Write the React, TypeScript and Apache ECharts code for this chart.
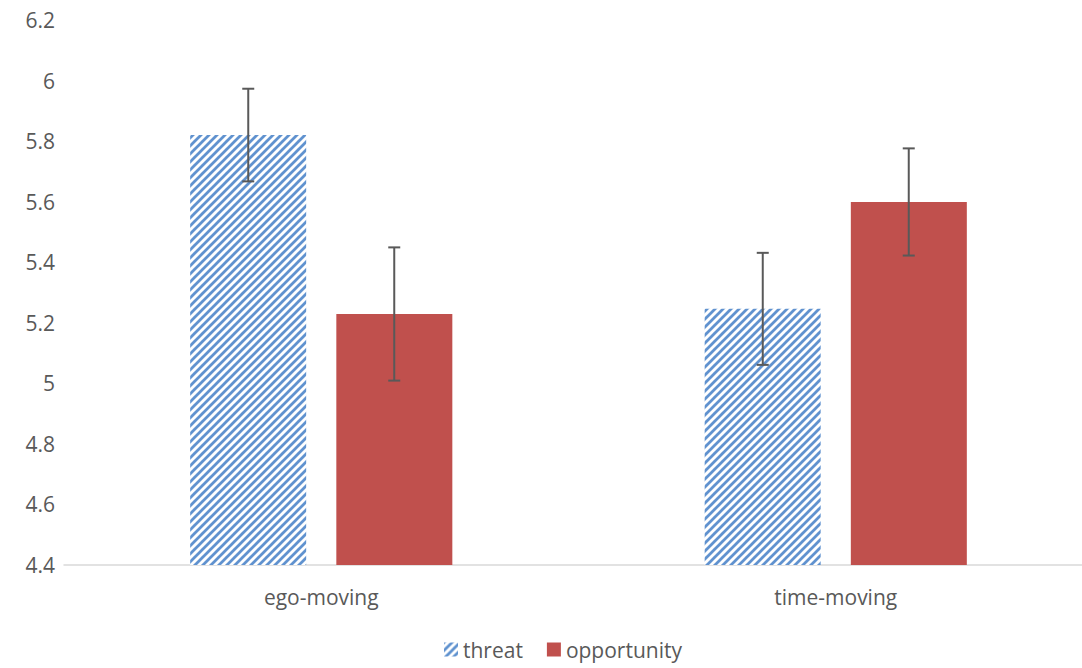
import React, { useEffect, useRef } from "react";
import * as echarts from "echarts";

const categories = ["ego-moving", "time-moving"];
const threatValues = [5.82, 5.246];
const opportunityValues = [5.229, 5.599];
const threatErrors = [0.153, 0.185];
const opportunityErrors = [0.22, 0.177];
const yTicks = { min: 4.4, max: 6.2, interval: 0.2 };

const BLUE = "#6092cf";
const RED = "#c0504d";
const TEXT = "#595959";
const FONT = "'Open Sans', 'Noto Sans', sans-serif";

function makeHatch(): HTMLCanvasElement {
  const c = document.createElement("canvas");
  c.width = 8;
  c.height = 8;
  const ctx = c.getContext("2d")!;
  ctx.fillStyle = "#ffffff";
  ctx.fillRect(0, 0, 8, 8);
  ctx.strokeStyle = BLUE;
  ctx.lineWidth = 2.8;
  ctx.beginPath();
  ctx.moveTo(-2, 10);
  ctx.lineTo(10, -2);
  ctx.moveTo(-6, 6);
  ctx.lineTo(6, -6);
  ctx.moveTo(2, 14);
  ctx.lineTo(14, 2);
  ctx.stroke();
  return c;
}

export default function App() {
  const ref = useRef<HTMLDivElement>(null);
  useEffect(() => {
    if (!ref.current) return;
    const chart = echarts.init(ref.current, undefined, { renderer: "svg" });
    const hatch = makeHatch();
    const hatchFill: any = { image: hatch, repeat: "repeat" };
    const BAR_W = 116;
    const OFFSET = 73;

    const errData = (vals: number[], errs: number[]) =>
      vals.map((v, i) => [i, v, errs[i]]);

    const errRender = (dir: number) => (params: any, api: any) => {
      const idx = api.value(0);
      const v = api.value(1);
      const e = api.value(2);
      const top = api.coord([idx, v + e]);
      const bot = api.coord([idx, v - e]);
      const x = top[0] + dir * OFFSET;
      const cap = 6;
      const style = { stroke: TEXT, lineWidth: 2 };
      return {
        type: "group",
        children: [
          { type: "line", shape: { x1: x, y1: top[1], x2: x, y2: bot[1] }, style },
          { type: "line", shape: { x1: x - cap, y1: top[1], x2: x + cap, y2: top[1] }, style },
          { type: "line", shape: { x1: x - cap, y1: bot[1], x2: x + cap, y2: bot[1] }, style },
        ],
      };
    };

    chart.setOption({
      animation: false,
      textStyle: { fontFamily: FONT },
      grid: {
        left: 64,
        width: 1029,
        top: 20,
        bottom: 103,
        containLabel: false,
        outerBoundsMode: "none",
      },
      legend: {
        data: ["threat", "opportunity"],
        top: 634,
        left: 439,
        icon: "rect",
        itemWidth: 14,
        itemHeight: 14,
        itemGap: 24,
        textStyle: { color: TEXT, fontSize: 21, fontFamily: FONT },
      },
      xAxis: {
        type: "category",
        data: categories,
        axisLine: { lineStyle: { color: "#d9d9d9", width: 1.5 } },
        axisTick: { show: false },
        axisLabel: { color: TEXT, fontSize: 21, margin: 21, fontFamily: FONT },
      },
      yAxis: {
        type: "value",
        min: yTicks.min,
        max: yTicks.max,
        interval: yTicks.interval,
        axisLine: { show: false },
        axisTick: { show: false },
        splitLine: { show: false },
        axisLabel: { color: TEXT, fontSize: 21, margin: 9, fontFamily: FONT },
      },
      series: [
        {
          name: "threat",
          type: "bar",
          data: threatValues,
          barWidth: BAR_W,
          barGap: "26%",
          itemStyle: { color: hatchFill },
        },
        {
          name: "opportunity",
          type: "bar",
          data: opportunityValues,
          barWidth: BAR_W,
          barGap: "26%",
          itemStyle: { color: RED },
        },
        {
          type: "custom",
          data: errData(threatValues, threatErrors),
          renderItem: errRender(-1),
          z: 10,
          silent: true,
        },
        {
          type: "custom",
          data: errData(opportunityValues, opportunityErrors),
          renderItem: errRender(1),
          z: 10,
          silent: true,
        },
      ],
    });
    return () => chart.dispose();
  }, []);
  return (
    <div
      ref={ref}
      style={{ position: "absolute", left: 0, top: 0, width: 1082, height: 668 }}
    />
  );
}
